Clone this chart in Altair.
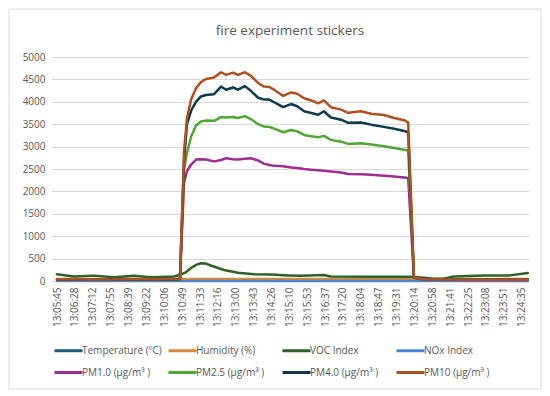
import altair as alt
import pandas as pd

FONT = "Open Sans"
TEXT = "#595959"
GRID = "#D9D9D9"

chart_title = "fire experiment stickers"

tick_labels = ["13:05:45", "13:06:28", "13:07:12", "13:07:55", "13:08:39", "13:09:22",
               "13:10:06", "13:10:49", "13:11:33", "13:12:16", "13:13:00", "13:13:43",
               "13:14:26", "13:15:10", "13:15:53", "13:16:37", "13:17:20", "13:18:04",
               "13:18:47", "13:19:31", "13:20:14", "13:20:58", "13:21:41", "13:22:25",
               "13:23:08", "13:23:51", "13:24:35"]

series_names = ["Temperature (ºC)", "Humidity (%)", "VOC Index", "NOx Index",
                "PM1.0 (µg/m³ )", "PM2.5 (µg/m³ )", "PM4.0 (µg/m³ )", "PM10 (µg/m³ )"]
series_colors = ["#1B5A80", "#D9893A", "#2F6127", "#4A85D0",
                 "#A02B93", "#4EA72E", "#0D3A4E", "#B0501E"]

env_times = ["13:05:45", "13:10:49", "13:15:10", "13:20:14", "13:24:50"]
temperature = [24, 24, 25, 25, 24]
humidity = [45, 44, 43, 44, 45]
nox = [1, 1, 1, 1, 1]

voc_times = ["13:05:45", "13:06:26", "13:07:15", "13:08:04", "13:08:52", "13:09:34",
             "13:10:30", "13:10:47", "13:10:59", "13:11:11", "13:11:23", "13:11:35",
             "13:11:47", "13:11:59", "13:12:31", "13:13:05", "13:13:44", "13:14:25",
             "13:15:07", "13:15:38", "13:16:34", "13:16:51", "13:18:29", "13:19:59",
             "13:20:13", "13:20:30", "13:21:02", "13:21:26", "13:21:50", "13:23:03",
             "13:24:02", "13:24:50"]
voc = [150, 100, 120, 85, 115, 85, 100, 150, 200, 290,
       360, 395, 390, 345, 245, 185, 150, 145, 125, 115,
       135, 100, 95, 95, 90, 80, 52, 52, 100, 120,
       120, 180]

pm_times = ["13:05:45", "13:07:32", "13:09:09", "13:10:44", "13:10:54", "13:11:01",
            "13:11:11", "13:11:23", "13:11:35", "13:11:47", "13:12:07", "13:12:24",
            "13:12:36", "13:12:53", "13:13:05", "13:13:22", "13:13:37", "13:13:54",
            "13:14:08", "13:14:21", "13:14:33", "13:14:55", "13:15:14", "13:15:29",
            "13:15:46", "13:16:03", "13:16:20", "13:16:34", "13:16:51", "13:17:16",
            "13:17:33", "13:18:04", "13:18:29", "13:19:00", "13:19:25", "13:19:49",
            "13:19:59", "13:20:13", "13:20:30", "13:22:08", "13:24:50"]
pm1 = [30, 28, 30, 34, 2200, 2450, 2600, 2710, 2720, 2710,
       2670, 2700, 2740, 2720, 2710, 2730, 2740, 2690, 2620, 2590,
       2570, 2560, 2535, 2520, 2500, 2485, 2470, 2460, 2445, 2420,
       2390, 2385, 2370, 2350, 2330, 2310, 2300, 75, 38, 24,
       24]
pm25 = [34, 31, 34, 38, 2500, 2850, 3220, 3470, 3560, 3580,
        3575, 3660, 3650, 3660, 3640, 3680, 3610, 3500, 3450, 3440,
        3400, 3320, 3370, 3340, 3260, 3230, 3210, 3240, 3150, 3110,
        3060, 3075, 3045, 3010, 2970, 2930, 2910, 80, 40, 26,
        26]
pm4 = [36, 33, 36, 40, 2700, 3500, 3800, 4000, 4120, 4150,
       4170, 4340, 4270, 4320, 4270, 4350, 4240, 4090, 4050, 4050,
       3990, 3880, 3950, 3900, 3790, 3750, 3710, 3790, 3650, 3600,
       3530, 3540, 3490, 3440, 3400, 3350, 3320, 85, 42, 28,
       28]
pm10 = [38, 35, 38, 42, 2900, 3630, 4050, 4300, 4440, 4510,
        4540, 4660, 4600, 4650, 4600, 4660, 4580, 4420, 4340, 4330,
        4270, 4130, 4210, 4180, 4080, 4030, 3965, 4030, 3880, 3825,
        3755, 3790, 3735, 3705, 3640, 3590, 3540, 90, 45, 30,
        30]


def to_ms(s):
    h, m, sec = (int(p) for p in s.split(":"))
    return ((h * 60 + m) * 60 + sec) * 1000


series_data = [
    (series_names[0], env_times, temperature),
    (series_names[1], env_times, humidity),
    (series_names[2], voc_times, voc),
    (series_names[3], env_times, nox),
    (series_names[4], pm_times, pm1),
    (series_names[5], pm_times, pm25),
    (series_names[6], pm_times, pm4),
    (series_names[7], pm_times, pm10),
]
rows = []
for idx, (name, times, vals) in enumerate(series_data):
    for t, v in zip(times, vals):
        rows.append({"series": name, "order": idx, "t": to_ms(t), "v": v})
df = pd.DataFrame(rows)

tick_ms = [to_ms(s) for s in tick_labels]
PX_PER_S = 0.41124
W, H = 478, 224
x0 = tick_ms[0] - 6 / PX_PER_S * 1000
x1 = x0 + W / PX_PER_S * 1000

lines = alt.Chart(df).mark_line(strokeWidth=2.5, strokeJoin="round", strokeCap="round").encode(
    x=alt.X("t:Q",
            scale=alt.Scale(domain=[x0, x1], nice=False, zero=False),
            axis=alt.Axis(values=tick_ms, labelExpr="utcFormat(datum.value, '%H:%M:%S')",
                          labelAngle=-90, grid=False, ticks=False, domainColor=GRID,
                          labelColor=TEXT, labelFontSize=10, labelFont=FONT,
                          labelPadding=6, labelOverlap=False, labelFlush=False,
                          title=None)),
    y=alt.Y("v:Q",
            scale=alt.Scale(domain=[0, 5000], nice=False),
            axis=alt.Axis(values=list(range(0, 5001, 500)), format="d", grid=True,
                          gridColor=GRID, domain=False, ticks=False, labelColor=TEXT,
                          labelFontSize=10, labelFont=FONT, labelPadding=6, title=None)),
    color=alt.Color("series:N",
                    scale=alt.Scale(domain=series_names, range=series_colors),
                    legend=alt.Legend(orient="none", legendX=2, legendY=285, columns=4,
                                      direction="horizontal",
                                      title=None, symbolType="M-1,0L3,0", symbolSize=196,
                                      symbolStrokeWidth=3, labelFontSize=10,
                                      labelColor=TEXT, labelFont=FONT, columnPadding=0,
                                      rowPadding=7, gridAlign="all", labelOffset=12,
                                      padding=0)),
    detail="order:O",
)

border = alt.Chart(pd.DataFrame({"k": [0]})).mark_rect(
    fill="transparent", stroke=GRID, strokeWidth=1
).encode(x=alt.value(-42), x2=alt.value(490), y=alt.value(-48), y2=alt.value(332))

title = alt.Chart(pd.DataFrame({"title": [chart_title]})).mark_text(
    fontSize=13.5, color=TEXT, font=FONT, align="center", baseline="middle"
).encode(x=alt.value(W / 2), y=alt.value(-26), text="title:N")

chart = alt.layer(border, lines, title).properties(
    width=W, height=H, padding=0, background="white"
).configure_view(stroke=None)

chart.save("out.html", embed_options={"renderer": "svg", "actions": False})
